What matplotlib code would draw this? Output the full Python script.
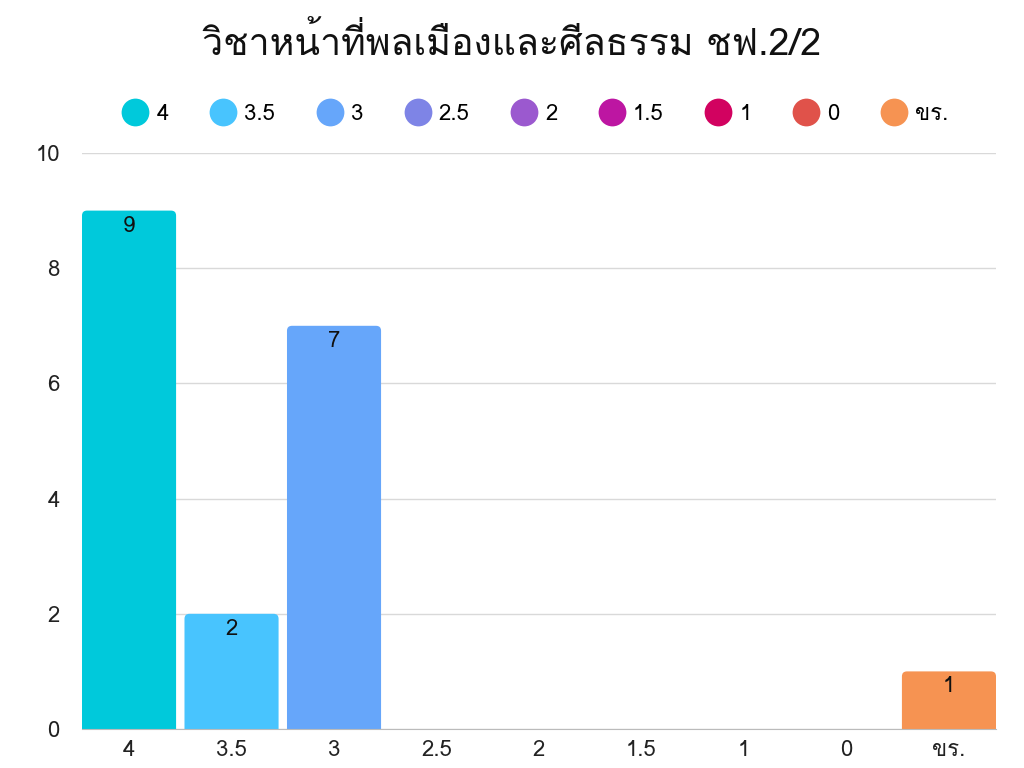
import matplotlib
matplotlib.use("Agg")
import matplotlib.pyplot as plt
from matplotlib import font_manager
from matplotlib.patches import FancyBboxPatch
from matplotlib.lines import Line2D
from matplotlib.ft2font import FT2Font

categories = ["4", "3.5", "3", "2.5", "2", "1.5", "1", "0", "ขร."]
values = [9, 2, 7, 0, 0, 0, 0, 0, 1]
colors = ["#00C9DB", "#48C4FE", "#66A6FA", "#7E84E6", "#9B59CF", "#BD16A2",
          "#D20260", "#E0524A", "#F69352"]
title = "วิชาหน้าที่พลเมืองและศีลธรรม ชฟ.2/2"
yticks = [0, 2, 4, 6, 8, 10]

# find a font with Thai glyphs
thai_font = None
for f in font_manager.fontManager.ttflist:
    try:
        ft = FT2Font(f.fname)
        cm = ft.get_charmap()
        if 0x0E27 in cm and 0x0E0A in cm and 0x0E35 in cm:
            thai_font = f.name
            if "Sans" in f.name or "Loma" in f.name or "Sarabun" in f.name:
                break
    except Exception:
        pass
families = ([thai_font] if thai_font else []) + ["DejaVu Sans"]
plt.rcParams["font.family"] = families

fig = plt.figure(figsize=(10.24, 7.68), dpi=100)
ax = fig.add_axes([82 / 1024, 39 / 768, 914 / 1024, 576 / 768])

width = 0.918
n = len(categories)
x = list(range(n))
ax.set_xlim(-width / 2, n - 1 + width / 2)
ax.set_ylim(0, 10)

xunit = 914 / (n - 1 + width)
yunit = 576 / 10
r = 5 / xunit
aspect = xunit / yunit
for i, v in enumerate(values):
    if v <= 0:
        continue
    p = FancyBboxPatch((i - width / 2, -0.3), width, v + 0.3,
                       boxstyle=f"round,pad=0,rounding_size={r}",
                       mutation_aspect=aspect, facecolor=colors[i],
                       edgecolor="none", zorder=3, clip_on=True)
    ax.add_patch(p)
    ax.text(i, v - 0.27, str(v), ha="center", va="center", fontsize=16,
            color="#111111", zorder=4)

ax.set_yticks(yticks)
ax.set_yticklabels([str(t) for t in yticks], fontsize=16, color="#222222")
ax.set_xticks(x)
ax.set_xticklabels(categories, fontsize=16, color="#222222")
ax.tick_params(axis="both", length=0, pad=8)
ax.tick_params(axis="y", pad=16)
ax.yaxis.grid(True, color="#D9D9D9", linewidth=1)
ax.set_axisbelow(True)
for s in ["left", "right", "top"]:
    ax.spines[s].set_visible(False)
ax.spines["bottom"].set_color("#BBBBBB")
ax.spines["bottom"].set_zorder(5)

fig.text(0.5, 0.943, title, ha="center", va="center", fontsize=27, color="#111111")

handles = [Line2D([0], [0], marker="o", linestyle="none", markersize=20,
                  markerfacecolor=c, markeredgecolor="none") for c in colors]
fig.legend(handles, categories, loc="center", bbox_to_anchor=(0.522, 0.851),
           ncol=n, frameon=False, fontsize=16, handletextpad=0.3,
           columnspacing=1.8, handlelength=1.3)

fig.savefig("out.png", dpi=100)
